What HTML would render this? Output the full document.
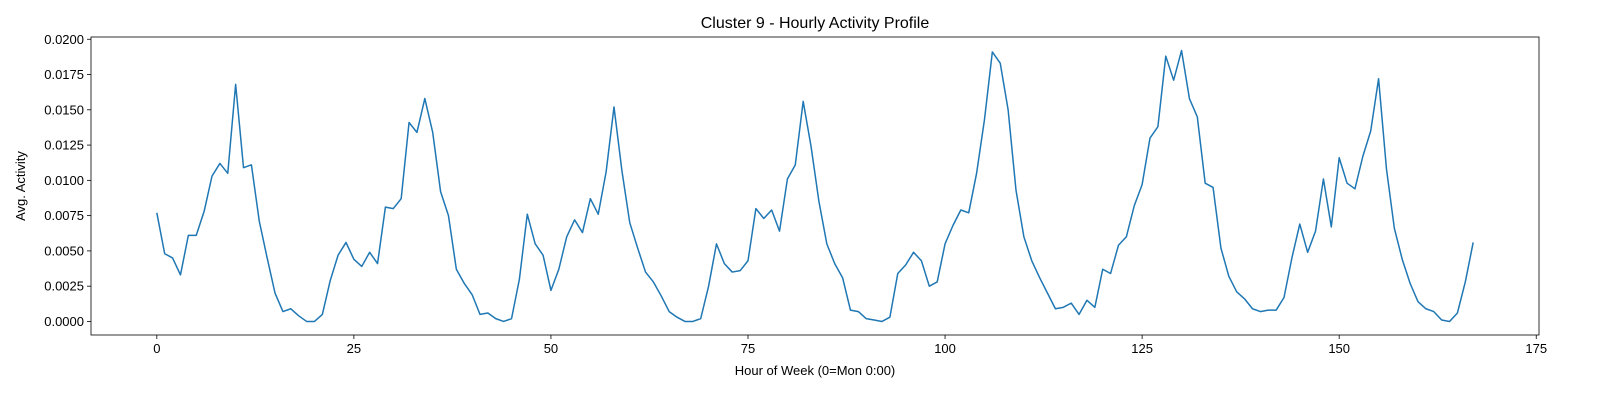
<!DOCTYPE html>
<html><head><meta charset="utf-8"><style>
body{margin:0;background:#fff;}
svg text{font-family:"Liberation Sans","DejaVu Sans",sans-serif;fill:#000;}
</style></head><body>
<svg id="chart" width="1600" height="400" xmlns="http://www.w3.org/2000/svg">
<text x="815" y="28" font-size="16" text-anchor="middle">Cluster 9 - Hourly Activity Profile</text>
<g id="plot"></g>
<text x="815" y="375" font-size="13" text-anchor="middle">Hour of Week (0=Mon 0:00)</text>
<text transform="translate(25,186) rotate(-90)" font-size="13" text-anchor="middle">Avg. Activity</text>
</svg>
<script>
const values = [0.0077,0.0048,0.0045,0.0033,0.0061,0.0061,0.0078,0.0103,0.0112,0.0105,0.0168,0.0109,0.0111,0.0071,0.0045,0.0020,0.0007,0.0009,0.0004,0.0000,0.0000,0.0005,0.0029,0.0047,0.0056,0.0044,0.0039,0.0049,0.0041,0.0081,0.0080,0.0087,0.0141,0.0134,0.0158,0.0134,0.0092,0.0075,0.0037,0.0027,0.0019,0.0005,0.0006,0.0002,0.0000,0.0002,0.0030,0.0076,0.0055,0.0047,0.0022,0.0037,0.0060,0.0072,0.0063,0.0087,0.0076,0.0106,0.0152,0.0107,0.0070,0.0052,0.0035,0.0028,0.0018,0.0007,0.0003,0.0000,0.0000,0.0002,0.0025,0.0055,0.0041,0.0035,0.0036,0.0043,0.0080,0.0073,0.0079,0.0064,0.0101,0.0111,0.0156,0.0124,0.0085,0.0055,0.0041,0.0031,0.0008,0.0007,0.0002,0.0001,0.0000,0.0003,0.0034,0.0040,0.0049,0.0043,0.0025,0.0028,0.0055,0.0068,0.0079,0.0077,0.0105,0.0143,0.0191,0.0183,0.0150,0.0093,0.0060,0.0043,0.0031,0.0020,0.0009,0.0010,0.0013,0.0005,0.0015,0.0010,0.0037,0.0034,0.0054,0.0060,0.0082,0.0097,0.0130,0.0138,0.0188,0.0171,0.0192,0.0158,0.0145,0.0098,0.0095,0.0052,0.0032,0.0021,0.0016,0.0009,0.0007,0.0008,0.0008,0.0017,0.0045,0.0069,0.0049,0.0064,0.0101,0.0067,0.0116,0.0098,0.0094,0.0117,0.0135,0.0172,0.0108,0.0066,0.0044,0.0027,0.0014,0.0009,0.0007,0.0001,0.0000,0.0006,0.0028,0.0056];
const xTicks = [0,25,50,75,100,125,150,175];
const yTicks = [0,0.0025,0.005,0.0075,0.01,0.0125,0.015,0.0175,0.02];
const L=91,R=1539,T=37,B=335;
const x0=-8.35,x1=175.35;
const ymax=Math.max(...values), ymin=Math.min(...values), m=(ymax-ymin)*0.05;
const y0=ymin-m,y1=ymax+m;
const X=v=>L+(v-x0)/(x1-x0)*(R-L);
const Y=v=>B-(v-y0)/(y1-y0)*(B-T);
const ns="http://www.w3.org/2000/svg";
const g=document.getElementById('plot');
function mk(t,a){const e=document.createElementNS(ns,t);for(const k in a)e.setAttribute(k,a[k]);g.appendChild(e);return e;}
xTicks.forEach(t=>{
  const l=mk('line',{x1:X(t),x2:X(t),y1:B,y2:B+4,stroke:'#000','stroke-width':0.8});
  
  
  const tx=mk('text',{x:X(t),y:B+18,'font-size':13,'text-anchor':'middle'});
  tx.textContent=t;
  
  
});
yTicks.forEach(t=>{
  const l=mk('line',{x1:L-4,x2:L,y1:Y(t),y2:Y(t),stroke:'#000','stroke-width':0.8});
  
  
  const tx=mk('text',{x:L-7,y:Y(t)+4.5,'font-size':13,'text-anchor':'end'});
  tx.textContent=t.toFixed(4);
  
  
});
const p=mk('polyline',{points:values.map((v,i)=>X(i).toFixed(2)+','+Y(v).toFixed(2)).join(' '),fill:'none',stroke:'#1f77b4','stroke-width':1.5,'stroke-linejoin':'round'});


const f=mk('rect',{x:L,y:T,width:R-L,height:B-T,fill:'none',stroke:'#000','stroke-width':0.8});


</script>
</body></html>
